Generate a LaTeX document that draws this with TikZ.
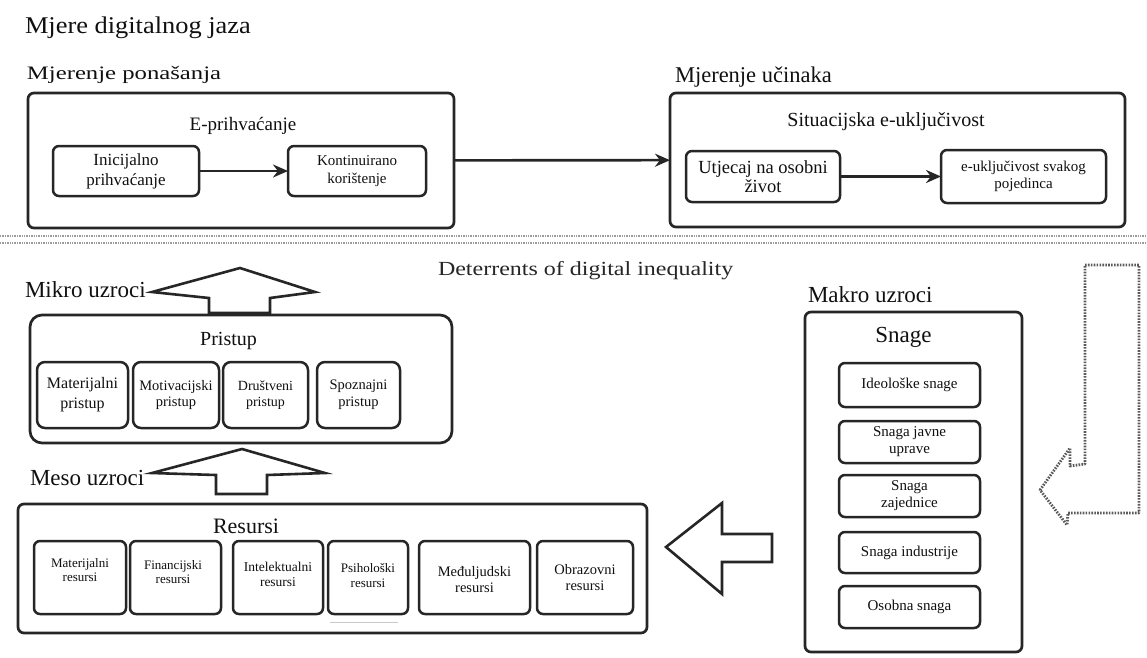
\documentclass[tikz,border=0pt]{standalone}
\usepackage{fontspec}
\usepackage{graphicx}
\setmainfont{Liberation Serif}
\usetikzlibrary{arrows.meta}
\definecolor{ln}{HTML}{262626}
\definecolor{tx}{HTML}{101010}
\definecolor{sepc}{HTML}{9A9A9A}
\definecolor{dotc}{HTML}{5A5A5A}
\definecolor{faint}{HTML}{C8C8C8}
\newcommand{\fsz}[2]{\fontsize{#1}{#2}\selectfont}
\begin{document}
\begin{tikzpicture}[x=1pt,y=-1pt,
  every node/.style={text=tx, inner sep=0pt, outer sep=0pt},
  frame/.style={draw=ln, line width=2.7pt, rounded corners=6pt, fill=white},
  bigframe/.style={frame, rounded corners=12pt},
  item/.style={frame, line width=2.5pt, align=center},
  flow/.style={draw=ln, line width=2.6pt, -{Stealth[length=15pt,width=13pt]}},
  hollow/.style={draw=ln, line width=2.6pt, fill=white, line join=miter},
  sepline/.style={draw=sepc, line width=1.4pt, densely dotted},
  dotarrow/.style={draw=dotc, line width=2.8pt, dash pattern=on 1.6pt off 1.3pt, line join=round},
]
\useasboundingbox (0,0) rectangle (1147,657);

% titles
\node[anchor=base west, font=\fsz{24}{28}] (title) at (25,33) {\scalebox{1.1}[1]{Mjere digitalnog jaza}};
\node[anchor=base west, font=\fsz{19}{22}] (tbeh) at (27,79) {\scalebox{1.3}[1]{Mjerenje ponašanja}};
\node[anchor=base west, font=\fsz{22.5}{26}] (teff) at (675,82) {Mjerenje učinaka};

% top boxes
\node[frame, minimum width=426pt, minimum height=135pt] (beh) at (241,160.5) {};
\node[frame, minimum width=455pt, minimum height=134pt] (eff) at (897.5,160) {};
\node[anchor=base, font=\fsz{19}{22}] (tepr) at (243,130) {E-prihvaćanje};
\node[anchor=base, font=\fsz{20}{24}] (tsit) at (886,126) {Situacijska e-uključivost};

\node[item, minimum width=146pt, minimum height=50pt, font=\fsz{17}{20}] (ini) at (126,171) {Inicijalno\\prihvaćanje};
\node[item, minimum width=138pt, minimum height=50pt, font=\fsz{15}{18}] (kont) at (357,171) {Kontinuirano\\korištenje};
\node[item, minimum width=154pt, minimum height=51pt, font=\fsz{18.5}{19}] (utj) at (763,176.5) {Utjecaj na osobni\\život};
\node[item, minimum width=165pt, minimum height=53pt, font=\fsz{15}{17}] (eukl) at (1023.5,176.5) {e-uključivost svakog\\pojedinca};

\draw[flow] (ini) -- (kont);
\draw[flow] (beh) -- (eff);
\draw[flow] (utj) -- (eukl);

% separator
\draw[sepline] (0,236) -- (1147,236);
\draw[sepline] (0,243) -- (1147,243);

\node[anchor=base west, font=\fsz{20}{24}, text=ln] (tdet) at (438,275) {\scalebox{1.2}[1]{Deterrents of digital inequality}};

% micro
\node[anchor=base west, font=\fsz{23}{26}] (tmik) at (25,297) {Mikro uzroci};
\draw[hollow] (240,268) -- (315,292) -- (270,298) -- (270,313) -- (209,313) -- (209,298) -- (152,292) -- cycle;

\node[bigframe, minimum width=422pt, minimum height=128pt] (pri) at (241,379) {};
\node[anchor=base, font=\fsz{20}{24}] (tpri) at (228.5,345) {Pristup};
\node[item, rounded corners=8pt, minimum width=91pt, minimum height=66pt, font=\fsz{16}{20}] (p1) at (82.5,395) {Materijalni\\pristup};
\node[item, rounded corners=8pt, minimum width=86pt, minimum height=66pt, font=\fsz{14.5}{16}] (p2) at (176,395) {Motivacijski\\pristup};
\node[item, rounded corners=8pt, minimum width=85pt, minimum height=66pt, font=\fsz{14}{16}] (p3) at (265.5,395) {Društveni\\pristup};
\node[item, rounded corners=8pt, minimum width=83pt, minimum height=66pt, font=\fsz{14.5}{17}] (p4) at (358.5,395) {Spoznajni\\pristup};

% meso
\node[anchor=base west, font=\fsz{23}{26}] (tmes) at (30,485) {Meso uzroci};
\draw[hollow] (242,449) -- (325,473) -- (267,475) -- (267,494) -- (216,494) -- (216,475) -- (152,473) -- cycle;

\node[frame, minimum width=629pt, minimum height=129pt] (res) at (332.5,568.5) {};
\node[item, minimum width=92pt, minimum height=73pt] (r1) at (80,577.5) {};
\node[item, minimum width=91pt, minimum height=73pt] (r2) at (175.5,577.5) {};
\node[item, minimum width=90pt, minimum height=73pt] (r3) at (278,577.5) {};
\node[item, minimum width=80pt, minimum height=73pt] (r4) at (368,577.5) {};
\node[item, minimum width=111pt, minimum height=73pt] (r5) at (474.5,577.5) {};
\node[item, minimum width=96pt, minimum height=73pt] (r6) at (585,577.5) {};
\node[anchor=base, font=\fsz{22}{26}] (tres) at (246,533) {Resursi};
\node[align=center, font=\fsz{13}{14}] (r1t) at (80,570) {Materijalni\\resursi};
\node[align=center, font=\fsz{13}{14}] (r2t) at (173,572) {Financijski\\resursi};
\node[align=center, font=\fsz{13.5}{15}] (r3t) at (278,574) {Intelektualni\\resursi};
\node[align=center, font=\fsz{13}{15}] (r4t) at (368,576) {Psihološki\\resursi};
\node[align=center, font=\fsz{14.5}{16}] (r5t) at (474.5,580) {Međuljudski\\resursi};
\node[align=center, font=\fsz{14.5}{16}] (r6t) at (585,578) {Obrazovni\\resursi};
\draw[draw=faint, line width=1pt] (330,622) -- (398,622);

% macro
\node[anchor=base west, font=\fsz{23}{26}] (tmak) at (808,302) {Makro uzroci};
\node[frame, minimum width=217pt, minimum height=340pt] (sna) at (913.5,482) {};
\node[anchor=base, font=\fsz{23}{26}] (tsna) at (903.5,342) {Snage};
\node[item, minimum width=141pt, minimum height=44pt, font=\fsz{15}{17}] (s1) at (909.5,385) {Ideološke snage};
\node[item, minimum width=141pt, minimum height=42pt, font=\fsz{15}{17}] (s2) at (909.5,442) {Snaga javne\\uprave};
\node[item, minimum width=141pt, minimum height=42pt, font=\fsz{15}{17}] (s3) at (909.5,496) {Snaga\\zajednice};
\node[item, minimum width=141pt, minimum height=41pt, font=\fsz{15}{17}] (s4) at (909.5,552.5) {Snaga industrije};
\node[item, minimum width=141pt, minimum height=42pt, font=\fsz{15}{17}] (s5) at (909.5,607) {Osobna snaga};

% macro -> resources hollow arrow
\draw[hollow] (666,547) -- (722,503) -- (722,534) -- (772,534) -- (772,562) -- (722,562) -- (722,594) -- cycle;

% dotted L arrow
\draw[dotarrow] (1085,265) -- (1139,265) -- (1139,513) -- (1068,513) -- (1067,525) -- (1040,490) -- (1070,448) -- (1070,466) -- (1085,464) -- cycle;
\end{tikzpicture}
\end{document}
